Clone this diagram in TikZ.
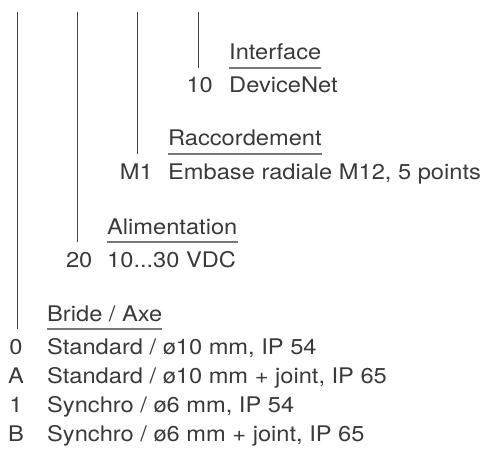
\documentclass[tikz,border=0pt]{standalone}
\usepackage{fontspec}
\setmainfont[FakeStretch=1.1]{TeX Gyre Heros}
\usetikzlibrary{calc}
\definecolor{txt}{HTML}{3A3A3A}
\definecolor{ln}{HTML}{444444}
\definecolor{ul}{HTML}{777777}
\begin{document}
\begin{tikzpicture}[x=1pt,y=-1pt,
  every node/.style={inner sep=0pt, text=txt, font=\fontsize{21.5}{24}\selectfont},
  head/.style={anchor=base west},
  item/.style={anchor=base west},
  code/.style={anchor=base east},
  ccode/.style={anchor=base},
  uline/.style={draw=ul, line width=1.2pt},
  vline/.style={draw=ln, line width=0.8pt}]
\useasboundingbox (0,0) rectangle (486,457);

% Interface
\node[head] (h1) at (229,60) {Interface};
\node[item] (i1) at (229,93) {DeviceNet};
\node[code] (c1) at (213,93) {10};
\draw[uline] ([yshift=-8pt]h1.base west) -- ([yshift=-8pt]h1.base east);
\coordinate (t1) at (198.5,12);
\coordinate (e1) at (198.5,68);
\draw[vline] (t1) -- (e1);

% Raccordement
\node[head] (h2) at (168,146) {Raccordement};
\node[item] (i2) at (168,179) {Embase radiale M12, 5 points};
\node[code] (c2) at (153,179) {M1};
\draw[uline] ([yshift=-8pt]h2.base west) -- ([yshift=-8pt]h2.base east);
\coordinate (t2) at (137.5,12);
\coordinate (e2) at (137.5,154);
\draw[vline] (t2) -- (e2);

% Alimentation
\node[head] (h3) at (107,234) {Alimentation};
\node[item] (i3) at (107,267) {10...30 VDC};
\node[code] (c3) at (92.5,267) {20};
\draw[uline] ([yshift=-8pt]h3.base west) -- ([yshift=-8pt]h3.base east);
\coordinate (t3) at (77.5,12);
\coordinate (e3) at (77.5,242);
\draw[vline] (t3) -- (e3);

% Bride / Axe
\node[head] (h4) at (47,321) {Bride / Axe};
\draw[uline] ([yshift=-8pt]h4.base west) -- ([yshift=-8pt]h4.base east);
\coordinate (t4) at (17,12);
\coordinate (e4) at (17,329);
\draw[vline] (t4) -- (e4);
\node[item] (i4a) at (47,354) {Standard / ø10 mm, IP 54};
\node[ccode] (c4a) at (16,354) {0};
\node[item] (i4b) at (47,383) {Standard / ø10 mm + joint, IP 65};
\node[ccode] (c4b) at (16,383) {A};
\node[item] (i4c) at (47,412) {Synchro / ø6 mm, IP 54};
\node[ccode] (c4c) at (16,412) {1};
\node[item] (i4d) at (47,441) {Synchro / ø6 mm + joint, IP 65};
\node[ccode] (c4d) at (16,441) {B};
\end{tikzpicture}
\end{document}
